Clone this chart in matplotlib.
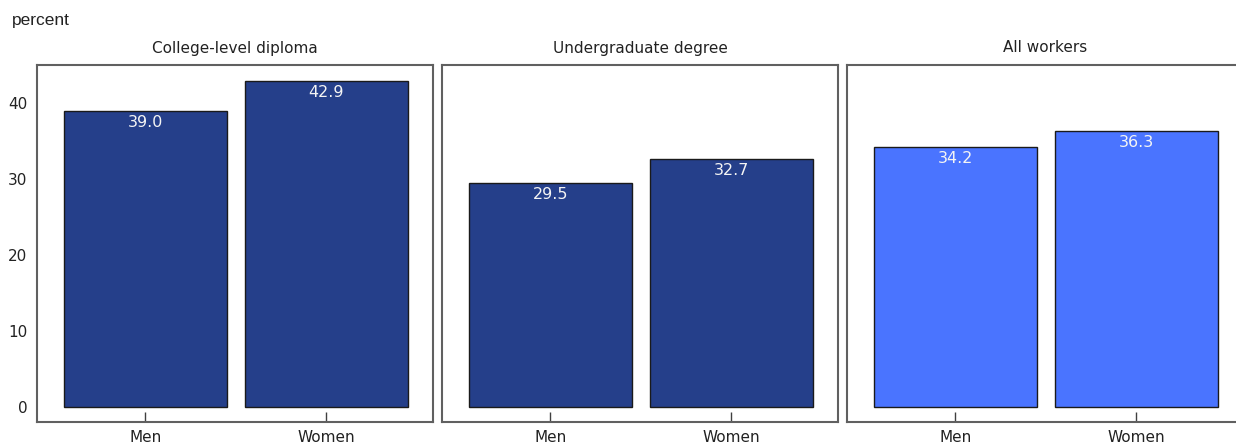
import numpy as np
import matplotlib.pyplot as plt

plt.rcParams.update({"font.family": "DejaVu Sans", "font.size": 11})

panels = ["College-level diploma", "Undergraduate degree", "All workers"]
categories = ["Men", "Women"]
college = [39.0, 42.9]
undergrad = [29.5, 32.7]
all_workers = [34.2, 36.3]
panel_values = [college, undergrad, all_workers]
panel_colors = ["#253f8a", "#253f8a", "#4a74ff"]

W, H = 1236, 448
fig = plt.figure(figsize=(W / 100, H / 100), dpi=100)

lefts = [37, 442, 847]
top, bottom = 65, 422
width = 396
x = np.arange(len(categories))

for i, (title, vals, col) in enumerate(zip(panels, panel_values, panel_colors)):
    ax = fig.add_axes([lefts[i] / W, 1 - bottom / H, width / W, (bottom - top) / H])
    bars = ax.bar(x, vals, width=0.9, color=col, edgecolor="#1a1a1a", linewidth=1.0)
    for b, v in zip(bars, vals):
        ax.annotate(f"{v:.1f}", (b.get_x() + b.get_width() / 2, v),
                    xytext=(0, -3), textcoords="offset points",
                    ha="center", va="top", color="#f4f4f4", fontsize=11.5)
    ax.set_xlim(-0.6, 1.59)
    ax.set_ylim(-1.93, 45)
    ax.set_xticks(x)
    ax.set_xticklabels(categories, fontsize=11, color="#222222")
    ax.tick_params(axis="x", direction="in", length=7, width=1, color="#404040", pad=6)
    ax.set_title(title, fontsize=11, pad=9, color="#222222")
    if i == 0:
        ax.set_yticks([0, 10, 20, 30, 40])
        ax.set_yticklabels(["0", "10", "20", "30", "40"], color="#222222")
        ax.tick_params(axis="y", length=0, pad=7)
    else:
        ax.set_yticks([])
    for s in ax.spines.values():
        s.set_color("#606060")
        s.set_linewidth(1.5)

fig.text(12 / W, 1 - 20 / H, "percent", fontsize=12.5, family="Liberation Sans",
         va="center", ha="left", color="#222222")

fig.savefig("out.png", dpi=100)
